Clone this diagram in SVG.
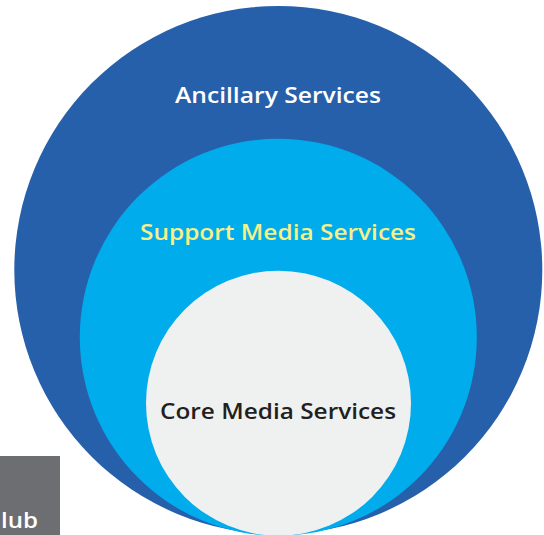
<svg xmlns="http://www.w3.org/2000/svg" width="544" height="535" viewBox="0 0 544 535">
<style>
.lbl{font-family:"Open Sans","Liberation Sans",sans-serif;font-size:21px;font-weight:600;text-anchor:middle}
</style>
<rect width="544" height="535" fill="#ffffff"/>
<g id="hub">
<rect x="0" y="456" width="60" height="79" fill="#6d6e71"/>
<text x="1" y="528" style="font-family:'Open Sans','Liberation Sans',sans-serif;font-size:22px;font-weight:600" fill="#ffffff" textLength="37" lengthAdjust="spacingAndGlyphs">lub</text>
</g>
<g id="ancillary">
<circle cx="278.3" cy="270" r="264" fill="#2660ab"/>
<text class="lbl" x="278" y="103" fill="#ffffff" textLength="206" lengthAdjust="spacingAndGlyphs">Ancillary Services</text>
</g>
<g id="support">
<circle cx="278.3" cy="337.2" r="198.5" fill="#00acec"/>
<text class="lbl" x="278" y="240" fill="#f7ef88" textLength="276" lengthAdjust="spacingAndGlyphs">Support Media Services</text>
</g>
<g id="core">
<circle cx="278.5" cy="403.2" r="132.5" fill="#eff0f0"/>
<text class="lbl" x="278" y="419" fill="#231f20" textLength="236" lengthAdjust="spacingAndGlyphs">Core Media Services</text>
</g>
<g id="connectors"/>
</svg>
